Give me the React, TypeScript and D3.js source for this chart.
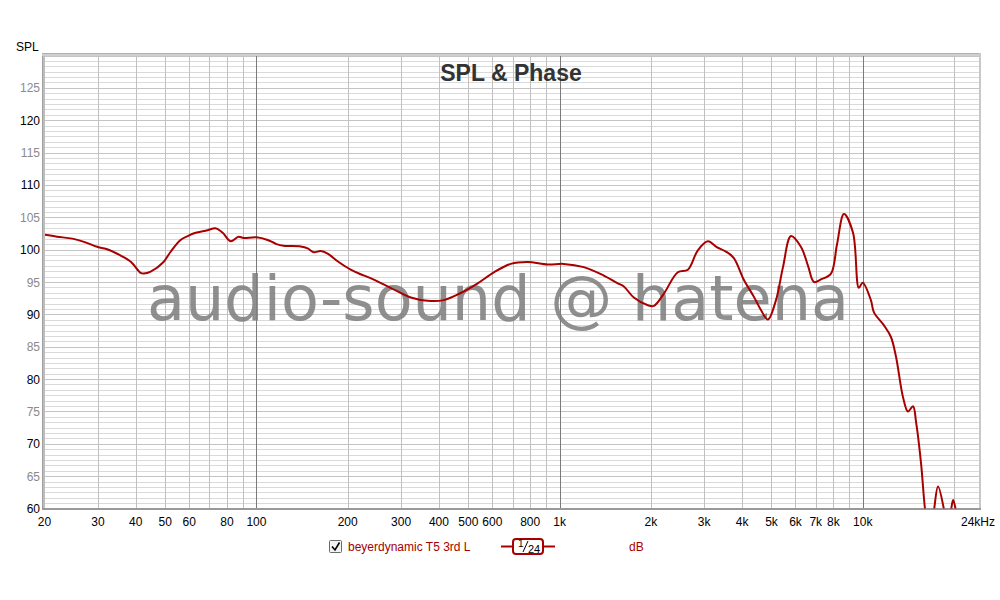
import React from "react";
import * as d3 from "d3";

const FREQ = [20, 22, 24.7, 27, 30, 32, 35.6, 38.6, 41.5, 42.5, 44.8, 49.4, 52, 56.2, 60, 62, 69, 73.3, 77.4, 82.2, 87.3, 90.7, 100, 108.9, 116, 123, 140, 147.6, 154.5, 163, 171.8, 185.3, 204.6, 220.7, 238, 277, 323, 367, 415, 472, 537, 607, 690, 785, 914, 1032, 1202, 1399, 1556, 1630, 1758, 1955, 2047, 2208, 2455, 2650, 2858, 3084, 3300, 3537, 3757, 4057, 4377, 4600, 4866, 5174, 5457, 5800, 6260, 6600, 6905, 7280, 7855, 8224, 8670, 9290, 9710, 10000, 10640, 10890, 11750, 12390, 12880, 13580, 14100, 14650, 15000, 15570, 16040, 16600, 17180, 17710, 18540, 19000, 19560, 19870, 20320, 21000, 24000];
const SPL = [102.3, 102.0, 101.7, 101.2, 100.4, 100.1, 99.1, 98.1, 96.4, 96.3, 96.6, 98.1, 99.6, 101.5, 102.2, 102.5, 103.0, 103.3, 102.6, 101.3, 102.0, 101.8, 101.9, 101.5, 100.9, 100.6, 100.5, 100.2, 99.6, 99.8, 99.4, 98.2, 96.9, 96.2, 95.6, 94.1, 92.6, 92.1, 92.2, 93.3, 94.8, 96.5, 97.8, 98.1, 97.7, 97.8, 97.3, 96.0, 94.8, 94.3, 92.6, 91.4, 91.3, 93.2, 96.5, 96.9, 99.9, 101.3, 100.4, 99.7, 98.7, 95.3, 92.7, 90.8, 89.2, 92.2, 97.3, 102.1, 100.4, 97.5, 95.0, 95.4, 96.3, 100.8, 105.5, 102.6, 94.1, 94.9, 92.2, 90.3, 88.3, 86.5, 83.4, 77.2, 75.0, 75.8, 73.3, 67.0, 60.0, 55, 59.7, 63.4, 59.8, 56, 59.8, 61.3, 59.5, 54, 50];

const X_TICKS = [20, 30, 40, 50, 60, 80, 100, 200, 300, 400, 500, 600, 800, 1000, 2000, 3000, 4000, 5000, 6000, 7000, 8000, 10000, 24000];
const X_TICK_LABELS = ["20", "30", "40", "50", "60", "80", "100", "200", "300", "400", "500", "600", "800", "1k", "2k", "3k", "4k", "5k", "6k", "7k", "8k", "10k", "24kHz"];
const Y_TICKS = [60, 65, 70, 75, 80, 85, 90, 95, 100, 105, 110, 115, 120, 125];

const SERIES_NAME = "beyerdynamic T5 3rd L";
const TITLE = "SPL & Phase";
const WATERMARK = "audio-sound @ hatena";

export default function App() {
  const L = 44.5, R = 978, T = 55.5, B = 508.5;
  const x = d3.scaleLog().domain([20, 24000]).range([L, R]);
  const y = d3.scaleLinear().domain([60, 130]).range([B, T]);

  const vGrid: { f: number; major: boolean }[] = [];
  [10, 100, 1000, 10000].forEach((dec) => {
    for (let m = 1; m <= 9; m++) {
      const f = dec * m;
      if (f > 20 && f < 24000) vGrid.push({ f, major: m === 1 });
    }
  });
  const hGrid = d3.range(0, 85).map((i) => 60 + (i * 5) / 6);

  const pts = FREQ.map((f, i) => [f, SPL[i]] as [number, number]);
  const line = d3
    .line<[number, number]>()
    .x((d) => x(d[0]))
    .y((d) => y(d[1]))
    .curve(d3.curveCatmullRom.alpha(0.5));

  const font = "'Liberation Sans', Arial, sans-serif";
  const red = "#a80000";

  return (
    <svg
      width={1000}
      height={600}
      style={{ position: "absolute", left: 0, top: 0, display: "block", background: "#fff" }}
    >
      <rect x={0} y={0} width={1000} height={600} fill="#fff" />
      <defs>
        <clipPath id="plotclip">
          <rect x={45} y={56} width={934} height={452.5} />
        </clipPath>
      </defs>
      {/* horizontal grid */}
      {hGrid.map((v, i) => (
        <line key={"h" + i} x1={45} x2={979} y1={Math.round(y(v)) + 0.5} y2={Math.round(y(v)) + 0.5} stroke={i % 6 === 0 ? "#c4c4c4" : "#dadada"} strokeWidth={1} />
      ))}
      {/* vertical grid */}
      {vGrid.map((g, i) => (
        <line key={"v" + i} x1={Math.round(x(g.f)) + 0.5} x2={Math.round(x(g.f)) + 0.5} y1={56} y2={508} stroke={g.major ? "#7a7a7a" : "#c0c0c0"} strokeWidth={1} />
      ))}
      {/* frame */}
      <rect x={42} y={53} width={3} height={457} fill="#bdbdbd" />
      <line x1={42.5} x2={42.5} y1={53} y2={510} stroke="#a0a0a0" />
      <rect x={42} y={53} width={939} height={3} fill="#cfcfcf" />
      <line x1={42} x2={981} y1={53.5} y2={53.5} stroke="#b0b0b0" />
      <line x1={980} x2={980} y1={53} y2={510} stroke="#c8c8c8" strokeWidth={2} />
      <line x1={42} x2={981} y1={509} y2={509} stroke="#9a9a9a" strokeWidth={2} />

      {/* title */}
      <text x={511} y={81} textAnchor="middle" fontFamily={font} fontWeight="bold" fontSize={23} fill="#333">
        {TITLE}
      </text>

      {/* watermark */}
      <text x={498} y={320} textAnchor="middle" fontFamily="'DejaVu Sans', sans-serif" fontSize={62} fill="#808080" opacity={0.88}>
        {WATERMARK}
      </text>

      {/* curve */}
      <path d={line(pts) || ""} fill="none" stroke={red} strokeWidth={2} clipPath="url(#plotclip)" strokeLinejoin="round" />

      {/* y labels */}
      <text x={16} y={51} fontFamily={font} fontSize={12} fill="#000">SPL</text>
      {Y_TICKS.map((v) => (
        <text key={"yt" + v} x={40} y={y(v) + 4.5} textAnchor="end" fontFamily={font} fontSize={12} fill={v % 10 === 0 ? "#000" : "#8a8a8a"}>
          {v}
        </text>
      ))}
      {/* x labels */}
      {X_TICKS.map((f, i) => (
        <text key={"xt" + f} x={x(f)} y={526} textAnchor="middle" fontFamily={font} fontSize={12} fill="#000">
          {X_TICK_LABELS[i]}
        </text>
      ))}

      {/* legend */}
      <rect x={329.5} y={540.5} width={12} height={12} fill="#f2f2f2" stroke="#6a6a6a" rx={1} />
      <path d="M332,546.5 L335,550 L339.5,542.5" fill="none" stroke="#000" strokeWidth={1.6} />
      <text x={348} y={551} fontFamily={font} fontSize={12} fill={red}>{SERIES_NAME}</text>
      <line x1={501} x2={513} y1={546.5} y2={546.5} stroke={red} strokeWidth={2} />
      <line x1={543} x2={555} y1={546.5} y2={546.5} stroke={red} strokeWidth={2} />
      <rect x={513} y={539} width={30} height={15} rx={3} fill="#fff" stroke={red} strokeWidth={2} />
      <text x={518} y={547} fontFamily={font} fontSize={10} fill="#000">1</text>
      <line x1={523} x2={528} y1={552} y2={541} stroke="#000" strokeWidth={1} />
      <text x={528} y={552.5} fontFamily={font} fontSize={11} fill="#000">24</text>
      <text x={629} y={551} fontFamily={font} fontSize={12} fill={red}>dB</text>
    </svg>
  );
}
